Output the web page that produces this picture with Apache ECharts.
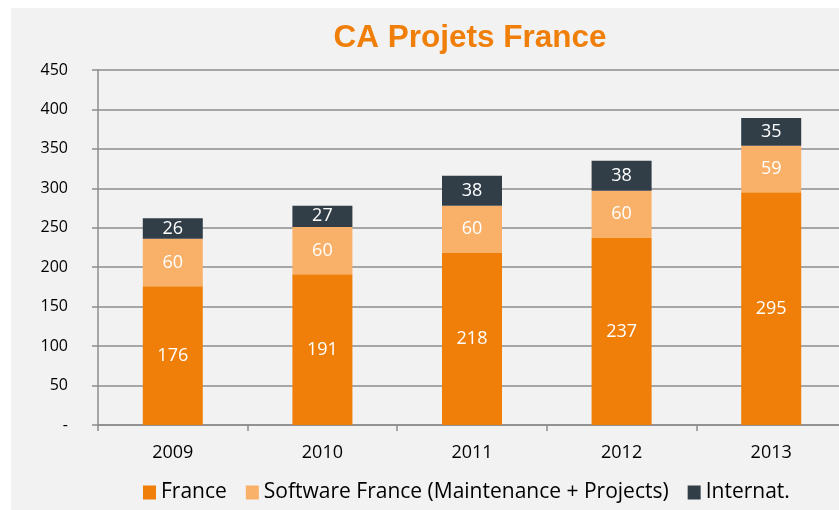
<!DOCTYPE html>
<html><head><meta charset="utf-8">
<script src="https://cdn.jsdelivr.net/npm/echarts@6/dist/echarts.min.js"></script>
<style>html,body{margin:0;padding:0;background:#fff;overflow:hidden}#c{width:860px;height:510px}</style>
</head><body><div id="c"></div>
<script>
const years = ['2009','2010','2011','2012','2013'];
const france = [176,191,218,237,295];
const software = [60,60,60,60,59];
const internat = [26,27,38,38,35];
const seriesNames = ['France','Software France (Maintenance + Projects)','Internat.'];
const colors = ['#f07f09','#f9b068','#313e48'];

const chart = echarts.init(document.getElementById('c'));
const font = "'Open Sans', 'Noto Sans', sans-serif";
function mk(name, data, color){
  return {name, type:'bar', stack:'s', data, barWidth:60, itemStyle:{color},
    label:{show:true, position:'inside', color:'#fff', fontSize:18, fontFamily:font}};
}
chart.setOption({
  animation:false,
  graphic:[{type:'rect', z:-10, shape:{x:11,y:8,width:860,height:502}, style:{fill:'#f2f2f2'}}],
  title:{text:'CA Projets France', left:465, top:17, textAlign:'center',
    textStyle:{color:'#f07f09', fontSize:31.5, fontWeight:'bold', fontFamily:"'Liberation Sans', Arial, sans-serif"}},
  legend:{top:482, left:143, padding:0, itemWidth:13, itemHeight:14, itemGap:19, icon:'rect',
    textStyle:{fontSize:21, color:'#000', fontFamily:font}, data:seriesNames},
  grid:{left:98, top:70, width:748, height:355, containLabel:false},
  xAxis:{type:'category', data:years,
    axisLine:{lineStyle:{color:'#8c8c8c', width:1.5}},
    axisTick:{show:true, length:6, lineStyle:{color:'#8c8c8c', width:1.5}},
    axisLabel:{color:'#000', fontSize:18, margin:19, fontFamily:font}},
  yAxis:{type:'value', min:0, max:450, interval:50,
    axisLine:{show:true, lineStyle:{color:'#8c8c8c', width:1.5}},
    axisTick:{show:true, length:6, lineStyle:{color:'#8c8c8c', width:1.5}},
    splitLine:{lineStyle:{color:'#8c8c8c', width:1.5}},
    axisLabel:{color:'#000', fontSize:16, margin:30, fontFamily:font, formatter:v=>v===0?'-':String(v)}},
  series:[mk(seriesNames[0],france,colors[0]), mk(seriesNames[1],software,colors[1]), mk(seriesNames[2],internat,colors[2])]
});
</script></body></html>
